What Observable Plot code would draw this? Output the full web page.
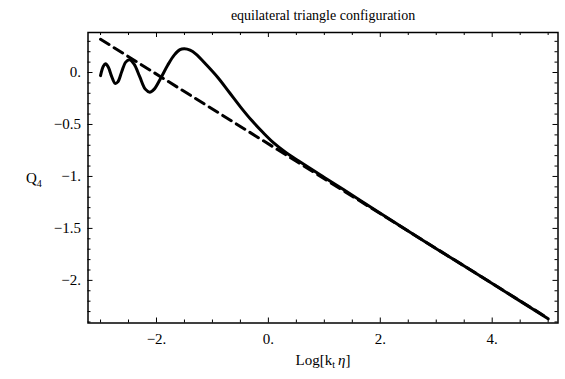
<!DOCTYPE html>
<html>
<head>
<meta charset="utf-8">
<script src="https://cdn.jsdelivr.net/npm/d3@7"></script>
<script src="https://cdn.jsdelivr.net/npm/@observablehq/plot@0.6"></script>
<style>
  html, body { margin: 0; padding: 0; background: #fff; }
  #chart svg { display: block; }
</style>
</head>
<body>
<div id="chart"></div>
<script>
// ---- data ----
const curveX = [-3.0, -2.95, -2.91, -2.86, -2.80, -2.74, -2.69, -2.62, -2.55, -2.48, -2.40, -2.30, -2.20, -2.12, -2.04, -1.92, -1.80, -1.68, -1.58, -1.50, -1.40, -1.30, -1.10, -0.90, -0.70, -0.50, -0.30, -0.10, 0.10, 0.30, 0.57, 1.0, 1.5, 2.0, 3.0, 4.0, 5.0];
const curveY = [-0.03, 0.06, 0.084, 0.05, -0.04, -0.105, -0.09, 0.01, 0.10, 0.122, 0.08, -0.04, -0.16, -0.189, -0.16, -0.05, 0.07, 0.17, 0.22, 0.228, 0.215, 0.18, 0.07, -0.05, -0.19, -0.33, -0.46, -0.575, -0.68, -0.765, -0.862, -1.01, -1.18, -1.355, -1.695, -2.03, -2.37];
const asymX = [-3.0, 5.0];
const asymY = [0.32, -2.365];

const xTicks = [-2, 0, 2, 4];
const xTickLabels = ["\u22122.", "0.", "2.", "4."];
const yTicks = [0, -0.5, -1, -1.5, -2];
const yTickLabels = ["0.", "\u22120.5", "\u22121.", "\u22121.5", "\u22122."];
const xMinor = [-3, -2.5, -1.5, -1, -0.5, 0.5, 1, 1.5, 2.5, 3, 3.5, 4.5, 5];
const yMinor = [0.3, 0.2, 0.1, -0.1, -0.2, -0.3, -0.4, -0.6, -0.7, -0.8, -0.9, -1.1, -1.2, -1.3, -1.4, -1.6, -1.7, -1.8, -1.9, -2.1, -2.2, -2.3, -2.4];

const titleText = "equilateral triangle configuration";
const yLabelText = "Q4";
const xLabelText = "Log[kt \u03b7]";

// ---- layout ----
const W = 565, H = 379;
const mL = 87.5, mR = 7.5, mT = 32, mB = 56.5;
const iW = W - mL - mR, iH = H - mT - mB;
const majorLen = 5, minorLen = 3;

const curve = curveX.map((x, i) => ({x, y: curveY[i]}));
const asym = asymX.map((x, i) => ({x, y: asymY[i]}));

const font = "'Liberation Serif', 'Times New Roman', serif";

const plot = Plot.plot({
  width: W,
  height: H,
  marginLeft: mL,
  marginRight: mR,
  marginTop: mT,
  marginBottom: mB,
  style: {fontFamily: font, fontSize: "14px", background: "#fff", color: "#000"},
  x: {domain: [-3.224, 5.176]},
  y: {domain: [-2.41, 0.385]},
  marks: [
    // tick labels
    Plot.axisX(xTicks, {anchor: "bottom", tickSize: 0, tickPadding: 10, label: null,
      tickFormat: d => xTickLabels[xTicks.indexOf(d)], fontSize: 15}),
    Plot.axisY(yTicks, {anchor: "left", tickSize: 0, tickPadding: 7, label: null,
      tickFormat: d => yTickLabels[yTicks.indexOf(d)], fontSize: 15}),
    // inward ticks, all four sides
    Plot.tickX(xMinor, {x: d => d, insetTop: iH - minorLen, stroke: "#000"}),
    Plot.tickX(xMinor, {x: d => d, insetBottom: iH - minorLen, stroke: "#000"}),
    Plot.tickX(xTicks, {x: d => d, insetTop: iH - majorLen, stroke: "#000"}),
    Plot.tickX(xTicks, {x: d => d, insetBottom: iH - majorLen, stroke: "#000"}),
    Plot.tickY(yMinor, {y: d => d, insetRight: iW - minorLen, stroke: "#000"}),
    Plot.tickY(yMinor, {y: d => d, insetLeft: iW - minorLen, stroke: "#000"}),
    Plot.tickY(yTicks, {y: d => d, insetRight: iW - majorLen, stroke: "#000"}),
    Plot.tickY(yTicks, {y: d => d, insetLeft: iW - majorLen, stroke: "#000"}),
    // series
    Plot.line(asym, {x: "x", y: "y", stroke: "#000", strokeWidth: 3, strokeDasharray: "10,6"}),
    Plot.line(curve, {x: "x", y: "y", stroke: "#000", strokeWidth: 3, curve: "catmull-rom"}),
    Plot.frame({stroke: "#000", strokeWidth: 1.5}),
    // texts
    Plot.text([titleText], {frameAnchor: "top", dy: -13, text: d => d, fontSize: 14, fill: "#000", lineAnchor: "bottom"}),
    Plot.text([yLabelText], {frameAnchor: "left", dx: -62, text: d => d, fontSize: 15, fill: "#000"}),
    Plot.text([xLabelText], {frameAnchor: "bottom", dy: 42, text: d => d, fontSize: 15, fill: "#000", lineAnchor: "bottom"})
  ]
});

// serif font everywhere; subscripts / italics in labels
d3.select(plot).selectAll("text").style("font-family", font).each(function() {
  const t = d3.select(this);
  const s = t.text();
  if (s === yLabelText) {
    t.text(null);
    t.append("tspan").text("Q");
    t.append("tspan").attr("font-size", "10px").attr("dy", "4").text("4");
  } else if (s === xLabelText) {
    t.text(null);
    t.append("tspan").text("Log[k");
    t.append("tspan").attr("font-size", "10px").attr("dy", "3").text("t");
    t.append("tspan").attr("dy", "-3").text("\u2009");
    t.append("tspan").attr("font-style", "italic").text("\u03b7");
    t.append("tspan").text("]");
  }
});
d3.select(plot).selectAll("g").style("font-family", font);

document.getElementById("chart").appendChild(plot);
</script>
</body>
</html>
